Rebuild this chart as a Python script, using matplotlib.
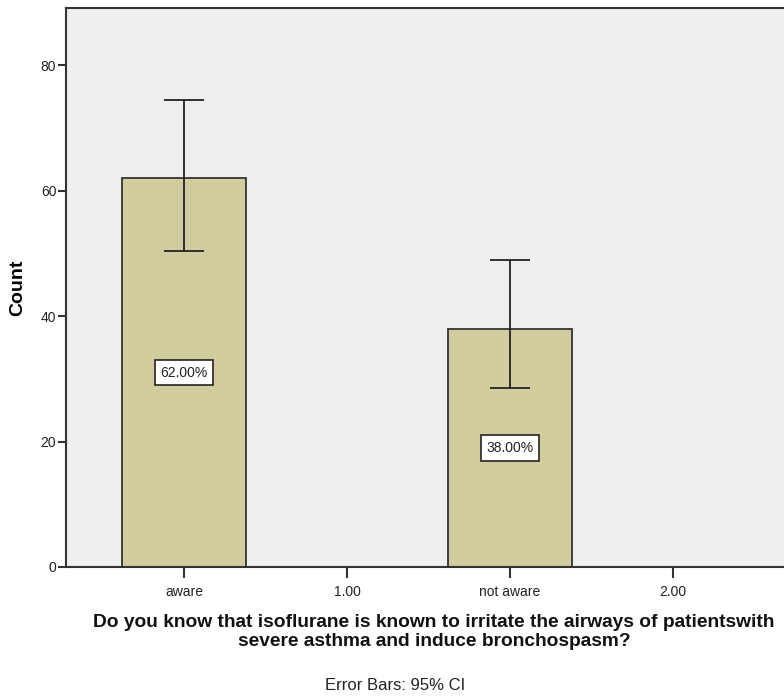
import matplotlib
matplotlib.use("Agg")
import matplotlib.pyplot as plt

# Response categories and counts
categories = ["aware", "not aware"]
bar_positions = [0, 2]
counts = [62, 38]
ci_lower = [50.4, 28.5]
ci_upper = [74.4, 48.9]

tick_positions = [0, 1, 2, 3]
tick_labels = ["aware", "1.00", "not aware", "2.00"]

FONT = ["Liberation Sans", "DejaVu Sans"]
plt.rcParams["font.family"] = FONT

W, H = 784, 698
fig = plt.figure(figsize=(W / 100, H / 100), dpi=100)
fig.patch.set_facecolor("white")

left_px, right_px, top_px, bottom_px = 66, 806, 8, 567
ax_w = right_px - left_px
ax = fig.add_axes([left_px / W, 1 - bottom_px / H,
                   ax_w / W, (bottom_px - top_px) / H])
ax.set_facecolor("#EFEFEF")

edge = "#333333"
ax.bar(bar_positions, counts, width=0.755, color="#D1CD9F",
       edgecolor=edge, linewidth=1.3, zorder=2)

yerr = [[c - lo for c, lo in zip(counts, ci_lower)],
        [hi - c for c, hi in zip(counts, ci_upper)]]
ax.errorbar(bar_positions, counts, yerr=yerr, fmt="none", ecolor="#222222",
            elinewidth=1.3, capsize=14.4, capthick=1.3, zorder=3)

total = sum(counts)
for x, c in zip(bar_positions, counts):
    ax.text(x, c / 2, f"{c / total * 100:.2f}%", ha="center", va="center",
            fontsize=10, color="#222222", zorder=4,
            bbox=dict(boxstyle="square,pad=0.42", facecolor="white",
                      edgecolor="#222222", linewidth=1.2))

ax.set_xlim(-0.724, 3.816)
ax.set_ylim(0, 89.1)
ax.set_yticks([0, 20, 40, 60, 80])
ax.set_xticks(tick_positions)
ax.set_xticklabels(tick_labels)

for s in ["left", "top", "bottom"]:
    ax.spines[s].set_color(edge)
    ax.spines[s].set_linewidth(1.5)
ax.spines["right"].set_visible(False)

ax.tick_params(axis="y", direction="out", length=6, width=1.5, color=edge,
               labelsize=10, labelcolor="#222222", pad=1)
ax.tick_params(axis="x", direction="out", length=8, width=1.5, color=edge,
               labelsize=10, labelcolor="#222222", pad=5)

ax.set_ylabel("Count", fontsize=14, fontweight="bold")
ax.yaxis.set_label_coords((26 - left_px) / ax_w, 0.5)

fig.text(434 / W, 1 - 632 / H,
         "Do you know that isoflurane is known to irritate the airways of patientswith\n"
         "severe asthma and induce bronchospasm?",
         ha="center", va="center", fontsize=13.8, fontweight="bold",
         linespacing=1.15, color="#111111")

fig.text(395 / W, 1 - 686 / H, "Error Bars: 95% CI", ha="center", va="center",
         fontsize=12, color="#222222")

fig.savefig("out.png", dpi=100, facecolor="white")
